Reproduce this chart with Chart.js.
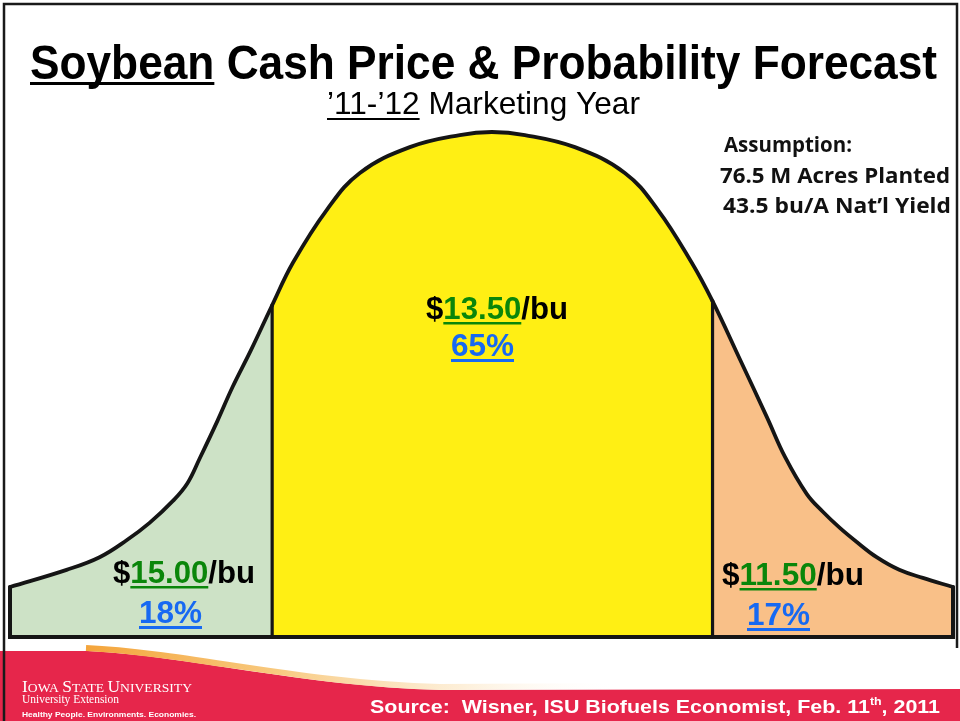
<!DOCTYPE html>
<html><head><meta charset="utf-8">
<script src="https://cdn.jsdelivr.net/npm/chart.js@4/dist/chart.umd.min.js"></script>
<style>html,body{margin:0;padding:0;background:#fff;overflow:hidden}canvas{display:block}</style>
</head><body>
<canvas id="c" width="960" height="721"></canvas>
<script>
// ---- data (x: relative position 0-100, y: relative density 0-100) ----
const curveX = [0, 6.0, 9.5, 12.4, 14.8, 17.3, 18.8, 20.1, 22.0, 23.6, 25.5, 27.8, 30.0, 33.6, 37.1, 42.4, 47.7, 51.1, 54.6, 59.9, 65.2, 68.7, 72.3, 74.5, 77.4, 80.3, 82.2, 84.5, 86.2, 88.0, 89.8, 91.9, 94.3, 96.8, 100];
const curveY = [9.9, 13.3, 15.8, 19.2, 22.6, 27.0, 30.4, 35.3, 42.8, 49.5, 56.6, 65.7, 74.1, 84.6, 91.9, 97.0, 99.4, 100, 99.4, 97.0, 91.9, 84.6, 74.1, 66.5, 55.0, 43.4, 35.6, 28.3, 24.8, 21.6, 18.8, 15.8, 13.3, 11.7, 9.9];
const regionEdges = [0, 27.8, 74.5, 100];
const regionPrices = ['15.00', '13.50', '11.50'];
const regionProbs = ['18%', '65%', '17%'];
const titleWord = 'Soybean';
const titleRest = ' Cash Price & Probability Forecast';
const subtitleYears = '\u201911-\u201912';
const subtitleRest = ' Marketing Year';
const assumptionLines = ['Assumption:', '76.5 M Acres Planted', '43.5 bu/A Nat\u2019l Yield'];
const sourceMain = 'Source:  Wisner, ISU Biofuels Economist, Feb. 11';
const sourceSup = 'th';
const sourceEnd = ', 2011';

// ---- styles ----
const regionFills = ['#CDE2C6', '#FFEF14', '#F9C088'];
const outlineColor = '#151515';
const priceGreen = '#0A860A';
const probBlue = '#1769F2';
const bandRed = '#E6264B';

const curvePts = curveX.map((x, i) => ({x, y: curveY[i]}));
function regionOf(a, b) {
  const m = (a + b) / 2;
  for (let i = 0; i < 3; i++) if (m >= regionEdges[i] && m <= regionEdges[i + 1]) return i;
  return 2;
}
function yAt(x) { return curveY[curveX.indexOf(x)]; }

const datasets = [];
// filled curve, coloured per region segment (drawn first)
datasets.push({data: curvePts, fill: 'origin', backgroundColor: regionFills[1],
  borderColor: outlineColor, borderWidth: 3.8, pointRadius: 0, tension: 0.4, order: 10, clip: false,
  borderCapStyle: 'round', borderJoinStyle: 'round',
  segment: {backgroundColor: c => regionFills[regionOf(c.p0.parsed.x, c.p1.parsed.x)]}});
for (let i = 1; i < 3; i++) {
  const x = regionEdges[i];
  datasets.push({data: [{x, y: 0}, {x, y: yAt(x)}], fill: false, borderColor: outlineColor, borderWidth: 3.2,
    pointRadius: 0, tension: 0, order: 2, clip: false});
}
datasets.push({data: [{x: 0, y: curveY[0]}, {x: 0, y: 0}, {x: 100, y: 0}, {x: 100, y: curveY[curveY.length - 1]}],
  fill: false, borderColor: outlineColor, borderWidth: 4, pointRadius: 0, tension: 0, order: 1, clip: false,
  borderJoinStyle: 'miter', borderCapStyle: 'round'});

function runs(ctx, list, x, base, fitW) {
  let total = 0;
  list.forEach(r => { ctx.font = r.font; r.w = ctx.measureText(r.text).width; total += r.w; });
  const s = fitW ? fitW / total : 1;
  ctx.save();
  ctx.translate(x, base);
  ctx.scale(s, 1);
  let cx = 0;
  list.forEach(r => {
    ctx.font = r.font; ctx.fillStyle = r.color; ctx.textBaseline = 'alphabetic'; ctx.textAlign = 'left';
    ctx.fillText(r.text, cx, r.dy || 0);
    if (r.underline) {
      ctx.fillStyle = r.ucolor || r.color;
      ctx.fillRect(cx, r.uy, r.w, r.uh);
    }
    cx += r.w;
  });
  ctx.restore();
}

const decor = {
  id: 'decor',
  beforeDraw(chart) {
    const ctx = chart.ctx;
    ctx.save();
    ctx.fillStyle = '#FFFFFF';
    ctx.fillRect(0, 0, 960, 721);
    ctx.fillStyle = bandRed;
    ctx.beginPath();
    ctx.moveTo(0, 651); ctx.lineTo(88, 651);
    ctx.bezierCurveTo(190, 656, 300, 686, 440, 690);
    ctx.lineTo(960, 689); ctx.lineTo(960, 721); ctx.lineTo(0, 721); ctx.closePath();
    ctx.fill();
    const g = ctx.createLinearGradient(88, 0, 620, 0);
    g.addColorStop(0, '#F4A53C'); g.addColorStop(0.35, '#F8C97E'); g.addColorStop(0.7, 'rgba(252,232,200,0.7)'); g.addColorStop(1, 'rgba(255,255,255,0)');
    ctx.strokeStyle = g; ctx.lineWidth = 6;
    ctx.beginPath();
    ctx.moveTo(86, 648);
    ctx.bezierCurveTo(190, 653, 300, 683, 440, 687);
    ctx.lineTo(640, 686);
    ctx.stroke();
    ctx.strokeStyle = '#1a1a1a'; ctx.lineWidth = 2.5;
    ctx.beginPath();
    ctx.moveTo(4, 721); ctx.lineTo(4, 4); ctx.lineTo(957, 4); ctx.lineTo(957, 648);
    ctx.stroke();
    ctx.restore();
  },
  afterDraw(chart) {
    const ctx = chart.ctx;
    const narrowB = 'bold 48px "Liberation Sans Narrow", "Arial Narrow", "Liberation Sans", Arial, sans-serif';
    runs(ctx, [
      {text: titleWord, font: narrowB, color: '#000', underline: true, uy: 3, uh: 3},
      {text: titleRest, font: narrowB, color: '#000'}
    ], 30, 79, 907);
    const narrowR = '32px "Liberation Sans Narrow", "Arial Narrow", "Liberation Sans", Arial, sans-serif';
    runs(ctx, [
      {text: subtitleYears, font: narrowR, color: '#000', underline: true, uy: 4, uh: 2},
      {text: subtitleRest, font: narrowR, color: '#000'}
    ], 327, 114, 313);
    const cal = 'bold 21px "Open Sans", Lato, sans-serif';
    runs(ctx, [{text: assumptionLines[0], font: cal, color: '#111'}], 724, 152, 128);
    runs(ctx, [{text: assumptionLines[1], font: cal, color: '#111'}], 720, 183, 230);
    runs(ctx, [{text: assumptionLines[2], font: cal, color: '#111'}], 723, 213, 228);

    const lf = 'bold 31px "Liberation Sans", Arial, sans-serif';
    const labelPos = [
      {px: 113, pb: 583, qx: 139, qb: 623},
      {px: 426, pb: 319, qx: 451, qb: 356},
      {px: 722, pb: 585, qx: 747, qb: 625}
    ];
    for (let i = 0; i < 3; i++) {
      const p = labelPos[i];
      runs(ctx, [
        {text: '$', font: lf, color: '#000'},
        {text: regionPrices[i], font: lf, color: priceGreen, underline: true, uy: 3, uh: 2.5},
        {text: '/bu', font: lf, color: '#000'}
      ], p.px, p.pb, 142);
      runs(ctx, [{text: regionProbs[i], font: lf, color: probBlue, underline: true, uy: 3, uh: 3}], p.qx, p.qb, 63);
    }

    const sf = 'bold 19px "Liberation Sans Narrow", "Arial Narrow", "Liberation Sans", Arial, sans-serif';
    const supf = 'bold 11px "Liberation Sans Narrow", "Arial Narrow", "Liberation Sans", Arial, sans-serif';
    runs(ctx, [
      {text: sourceMain, font: sf, color: '#fff'},
      {text: sourceSup, font: supf, color: '#fff', dy: -8},
      {text: sourceEnd, font: sf, color: '#fff'}
    ], 370, 713, 570);
    const serBig = '16px "Liberation Serif", "Times New Roman", serif';
    const serSm = '12.5px "Liberation Serif", "Times New Roman", serif';
    runs(ctx, [
      {text: 'I', font: serBig, color: '#fff'}, {text: 'OWA ', font: serSm, color: '#fff'},
      {text: 'S', font: serBig, color: '#fff'}, {text: 'TATE ', font: serSm, color: '#fff'},
      {text: 'U', font: serBig, color: '#fff'}, {text: 'NIVERSITY', font: serSm, color: '#fff'}
    ], 22, 692, 170);
    runs(ctx, [{text: 'University Extension', font: '11.5px "Liberation Serif", "Times New Roman", serif', color: '#fff'}], 22, 703, 97);
    runs(ctx, [{text: 'Healthy People. Environments. Economies.', font: 'bold 8px "Liberation Sans", Arial, sans-serif', color: '#fff'}], 22, 717, 174);
  }
};

new Chart(document.getElementById('c'), {
  type: 'line',
  data: {datasets},
  options: {
    responsive: false, animation: false, devicePixelRatio: 1,
    layout: {padding: {left: 10, right: 7, top: 132, bottom: 84}},
    scales: {
      x: {type: 'linear', min: 0, max: 100, display: false},
      y: {min: 0, max: 100, display: false}
    },
    plugins: {legend: {display: false}, tooltip: {enabled: false}, title: {display: false}},
    elements: {point: {radius: 0}}
  },
  plugins: [decor]
});
</script>
</body></html>
